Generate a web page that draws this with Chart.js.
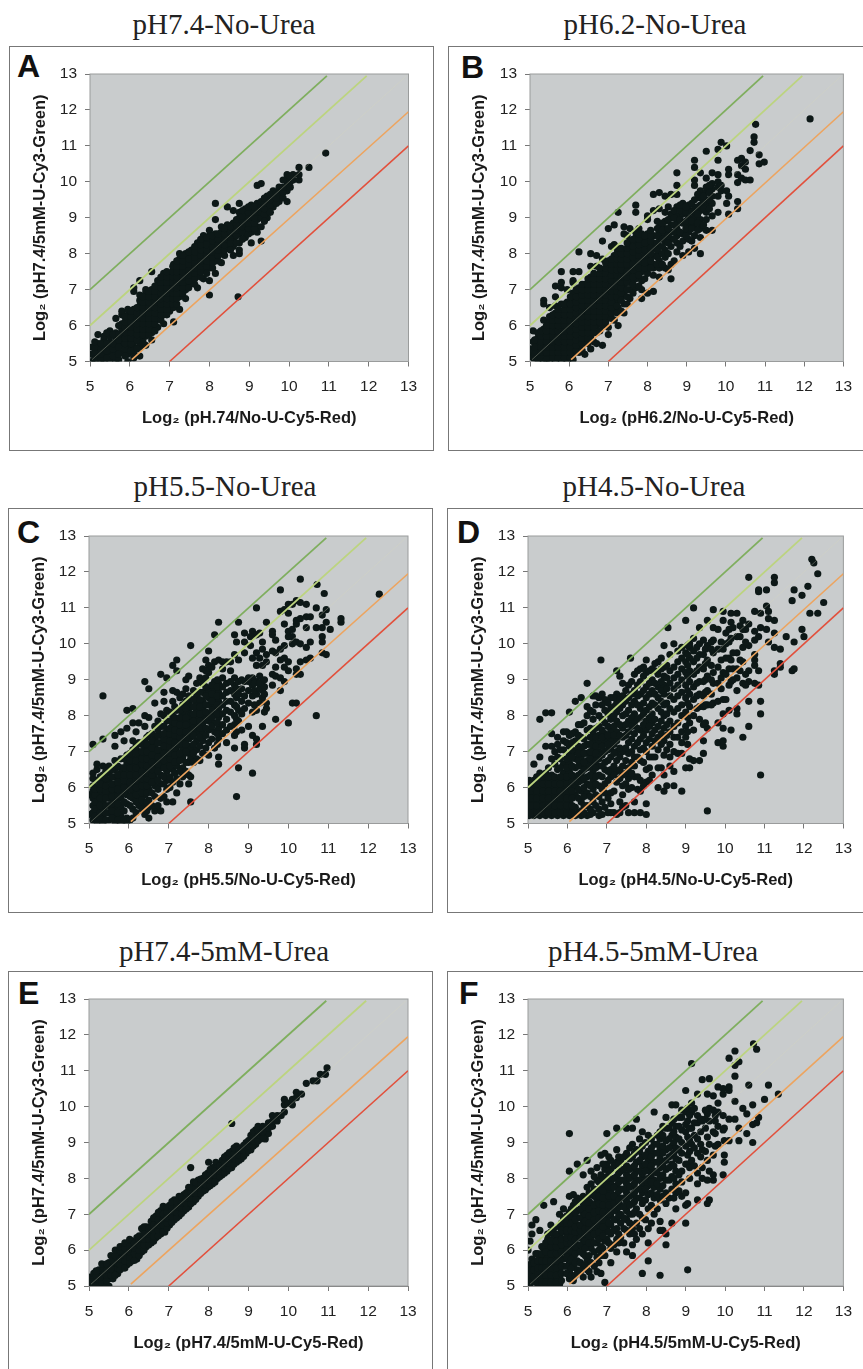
<!DOCTYPE html>
<html>
<head>
<meta charset="utf-8">
<title>Log2 scatter panels</title>
<script src="https://cdn.jsdelivr.net/npm/chart.js@4/dist/chart.umd.min.js"></script>
<style>
    html, body { margin: 0; padding: 0; background: #fff; }
    body { position: relative; width: 863px; height: 1369px; overflow: hidden; }
    .frame { position: absolute; box-sizing: border-box; border: 1.5px solid #777; }
    .title { position: absolute; transform: translateX(-50%); white-space: nowrap; font: 29px "Liberation Serif", serif; color: #222; }
    .letter { position: absolute; font: bold 32px "Liberation Sans", sans-serif; color: #111; line-height: 32px; }
</style>
</head>
<body>
<script>
// Axis ticks shared by every panel
const tickValues = [5, 6, 7, 8, 9, 10, 11, 12, 13];

// Guide lines, read as end points [x, y]
const guideGreen = [[5, 7], [10.95, 12.95]];
const guideLightGreen = [[5, 6], [11.95, 12.95]];
const guideCentre = [[5.05, 5.05], [12.95, 12.95]];
const guideOrange = [[6.05, 5.05], [13, 11.95]];
const guideRed = [[7, 5], [13, 11]];

// Points, one row per column: [x, y, y, y...]
const columnsA = [
    [5.05,5,5.2,5.4],[5.2,5.1,5.3,5.5,5.75],[5.35,5,5.2,5.4,5.6,5.7],[5.5,5.05,5.25,5.4,5.55,5.7,5.85],
    [5.65,5,5.3,5.5,5.65,5.8,6.2],[5.8,5.25,5.45,5.6,5.75,5.9,6.05,6.3,6.4],
    [5.95,5,5.2,5.4,5.55,5.7,5.85,6,6.15,6.3,6.45],[6.1,5.1,5.25,5.4,5.55,5.7,5.85,6,6.15,6.3,6.45,6.95,7.05],
    [6.25,5.15,5.4,5.5,5.65,5.8,5.95,6.1,6.25,6.4,6.55,6.7,6.85,7.25],[6.4,5.45,5.7,5.85,6,6.15,6.3,6.45,6.6,6.75,6.9,7],
    [6.55,5.6,5.8,5.95,6.1,6.25,6.4,6.55,6.7,6.85,7,7.5],[6.7,5.95,6.2,6.35,6.5,6.65,6.8,6.95,7.1,7.25],
    [6.85,6.05,6.3,6.45,6.6,6.75,6.9,7.05,7.2,7.35,7.45],[7,6.4,6.55,6.7,6.85,7,7.15,7.3,7.45],
    [7.1,6.1,6.5,6.65,6.8,6.95,7.1,7.25,7.4,7.55,7.7],[7.25,6.45,6.8,6.95,7.1,7.25,7.4,7.55,7.7,7.85,8],
    [7.4,6.75,7,7.15,7.3,7.45,7.6,7.75,7.9,8],[7.55,7.2,7.35,7.5,7.65,7.8,7.95,8.1],
    [7.7,7.05,7.4,7.55,7.7,7.85,8,8.15,8.3],[7.85,7.3,7.55,7.7,7.85,8,8.15,8.3,8.5],
    [8,6.85,7.25,7.6,7.75,7.9,8.05,8.2,8.35,8.5,8.65],[8.15,7.45,7.8,7.95,8.1,8.25,8.4,8.55,8.95,9.4],
    [8.3,7.75,8,8.15,8.3,8.45,8.6,8.75],[8.45,8.15,8.35,8.5,8.65,8.8,9.3],[8.6,7.95,8.2,8.4,8.55,8.7,8.85,9.2],
    [8.72,6.8],[8.75,8,8.1,8.3,8.55,8.7,8.85,9,9.15,9.4],[8.9,8.45,8.65,8.8,8.95,9.1,9.25],
    [9.05,8.3,8.6,8.75,8.9,9.05,9.2,9.35],[9.2,8.6,8.75,8.95,9.1,9.25,9.4,9.9],[9.3,8.35,8.75,9,9.15,9.3,9.45,9.95],
    [9.45,9,9.15,9.3,9.45,9.6],[9.6,9.3,9.45,9.6,9.75],[9.75,9.45,9.6,9.75,9.85],[9.95,9.45,9.75,9.9,10.05,10.2],
    [10.1,10.05,10.2],[10.25,10.05,10.2,10.4],[10.5,10.4],[10.92,10.8]
];
const fillA = [
    [5.12,5.05,5.25,5.4,5.55],[5.28,5.05,5.2,5.35,5.5],[5.42,5.1,5.3,5.5,5.8],[5.58,5.15,5.35,5.5,5.75],
    [5.72,5.05,5.2,5.4,5.6,5.75,6],[5.88,5.15,5.35,5.5,5.65,5.8,5.95,6.1,6.25],[6.03,5.3,5.5,5.65,5.8,5.95,6.1,6.25,6.4],
    [6.18,5.35,5.6,5.75,5.9,6.05,6.2,6.35,6.5],[6.33,5.55,5.75,5.9,6.05,6.2,6.35,6.5,6.65,6.8],
    [6.48,5.75,5.9,6.05,6.2,6.35,6.5,6.65,6.8,6.95],[6.63,5.85,6.05,6.2,6.35,6.5,6.65,6.8,6.95,7.1],
    [6.78,6.15,6.3,6.45,6.6,6.75,6.9,7.05,7.2,7.35],[6.93,6.3,6.45,6.6,6.75,6.9,7.05,7.2,7.35,7.5],
    [7.08,6.6,6.75,6.9,7.05,7.2,7.35,7.5,7.65],[7.18,6.6,6.75,6.9,7.05,7.2,7.35,7.5,7.65,7.8],
    [7.33,6.9,7.05,7.2,7.35,7.5,7.65,7.8,7.95],[7.48,7.05,7.25,7.4,7.55,7.7,7.85,8.05],[7.63,7.15,7.3,7.45,7.6,7.75,7.9,8.05,8.2],
    [7.78,7.35,7.5,7.65,7.8,7.95,8.1,8.25,8.4],[7.93,7.45,7.65,7.8,7.95,8.1,8.25,8.45],[8.08,7.6,7.75,7.9,8.05,8.2,8.35,8.5],
    [8.22,7.8,7.95,8.1,8.25,8.4,8.55],[8.38,7.95,8.1,8.25,8.4,8.55,8.7],[8.53,8.1,8.3,8.45,8.6,8.75],[8.68,8.3,8.5,8.65,8.8,8.95],
    [8.83,8.4,8.6,8.75,8.9,9.05,9.2],[8.98,8.55,8.7,8.85,9,9.15,9.3],[9.13,8.7,8.85,9,9.15,9.3],[9.38,8.9,9.1,9.25,9.4,9.55],
    [9.53,9.15,9.35,9.5,9.65],[9.68,9.4,9.55,9.7],[9.85,9.55,9.7,9.85,10.05],[10.03,9.85,10,10.15]
];
const columnsB = [
    [5,5.15,5.25,5.35],[5.08,5.1,5.3,5.55,5.85],[5.2,5.05,5.2,5.35,5.5,5.65,5.8],
    [5.35,5,5.15,5.3,5.45,5.6,5.75,5.9,6.15,6.6,6.7],[5.5,5.05,5.2,5.35,5.5,5.65,5.8,5.95,6.1,6.25,6.5],
    [5.65,5,5.15,5.3,5.45,5.6,5.75,5.9,6.05,6.2,6.35,6.55,6.8,7.1],
    [5.8,5.05,5.2,5.35,5.5,5.65,5.8,5.95,6.1,6.25,6.4,6.6,7.05,7.2,7.5],
    [5.95,5,5.15,5.3,5.45,5.6,5.75,5.9,6.05,6.2,6.35,6.5,6.65,7],
    [6.1,5.05,5.2,5.4,5.55,5.7,5.85,6,6.15,6.3,6.45,6.6,6.75,6.9,7.2,7.25,7.5],
    [6.25,5.25,5.4,5.55,5.7,5.85,6,6.15,6.3,6.45,6.6,6.75,6.9,7.05,7.5,8.05],
    [6.4,5.2,5.5,5.65,5.8,5.95,6.1,6.25,6.4,6.55,6.7,6.85,7,7.15],
    [6.55,5.35,5.7,5.85,6,6.15,6.3,6.45,6.6,6.75,6.9,7.05,7.2,7.35,7.65,8],
    [6.7,5.5,5.8,6,6.15,6.3,6.45,6.6,6.75,6.9,7.05,7.2,7.35,7.65,7.95],
    [6.85,5.45,6,6.2,6.35,6.5,6.65,6.8,6.95,7.1,7.25,7.4,7.55,7.85,8.35],
    [7,5.75,5.95,6.3,6.45,6.6,6.75,6.9,7.05,7.2,7.35,7.5,7.65,7.8,8.7],
    [7.15,6.15,6.45,6.6,6.75,6.9,7.05,7.2,7.35,7.5,7.65,7.8,7.95,8.25,8.8],
    [7.25,6,6.5,6.7,6.85,7,7.15,7.3,7.45,7.6,7.75,7.9,8.05,9.15],
    [7.4,6.35,6.6,6.85,7,7.15,7.3,7.5,7.65,7.8,7.95,8.1,8.55,8.75],
    [7.55,6.75,7,7.2,7.4,7.6,7.75,7.9,8.05,8.2,8.35,8.7],
    [7.7,7.05,7.3,7.5,7.7,7.85,8,8.15,8.3,8.45,8.6,9.15,9.35],
    [7.85,6.75,7,7.25,7.5,7.65,7.9,8.1,8.25,8.4,8.55],
    [8,6.9,7.45,7.65,7.85,8,8.2,8.4,8.55,8.95,9.05],
    [8.15,6.95,7.4,7.6,7.7,7.95,8.15,8.3,8.5,9.2,9.65],
    [8.3,7.35,7.6,7.8,8,8.2,8.45,8.6,8.75,9.25,9.7],
    [8.45,7.6,7.9,8.1,8.35,8.55,8.7,8.9,9.15,9.6],
    [8.6,7.3,7.7,8.2,8.4,8.6,8.8,9,9.1,9.65],
    [8.75,8.05,8.3,8.5,8.7,8.85,9.05,9.3,9.65,9.9,10.25],
    [8.9,7.95,8.35,8.55,8.85,9.1,9.3,9.4],
    [9.05,8.05,8.4,8.6,8.8,9,9.2,9.35],
    [9.2,8.15,8.5,8.8,9,9.25,9.5,9.9,10.05,10.4,10.6],
    [9.35,8,8.45,8.7,8.95,9.2,9.35,9.55,9.75,10.25],
    [9.5,8.65,8.95,9.15,9.35,9.5,9.7,9.85,10.1,10.85],
    [9.65,8.65,9.05,9.4,9.6,9.8,9.95,10.25],
    [9.8,9.15,9.6,9.85,10,10.2,10.6,10.9],
    [9.88,9.75,9.9,11.1],[10.02,9.4,9.75,11],[10.07,9.1,9.6,10.2,10.35],[10.3,9.25,9.45,9.98,10.2,10.6],
    [10.4,10.1,10.45,10.65],[10.5,10.05,10.35,10.55],[10.62,10.05,10.87],[10.72,11.1,11.25],
    [10.76,11.6],[10.85,10.5,10.75],[10.98,10.55],[12.15,11.75]
];
const fillB = [
    [5.12,5.2,5.4,5.6],[5.28,5.1,5.25,5.4,5.55,5.7,5.85],[5.42,5.05,5.25,5.4,5.55,5.7,5.85,6],[5.58,5.1,5.25,5.4,5.55,5.7,5.85,6,6.15,6.3],
    [5.72,5.1,5.25,5.4,5.55,5.7,5.85,6,6.15,6.3,6.45],[5.88,5.1,5.25,5.4,5.55,5.7,5.85,6,6.15,6.3,6.45,6.6],
    [6.03,5.1,5.25,5.4,5.55,5.7,5.85,6,6.15,6.3,6.45,6.6,6.8],[6.18,5.3,5.45,5.6,5.75,5.9,6.05,6.2,6.35,6.5,6.65,6.8,7],
    [6.33,5.3,5.5,5.65,5.8,5.95,6.1,6.25,6.4,6.55,6.7,6.85,7,7.15],[6.48,5.5,5.65,5.8,5.95,6.1,6.25,6.4,6.55,6.7,6.85,7,7.15,7.3],
    [6.63,5.55,5.8,5.95,6.1,6.25,6.4,6.55,6.7,6.85,7,7.15,7.3,7.45],[6.78,5.85,6.1,6.25,6.4,6.55,6.7,6.85,7,7.15,7.3,7.45,7.6],
    [6.93,6.1,6.25,6.4,6.55,6.7,6.85,7,7.15,7.3,7.45,7.6,7.75],[7.08,6.2,6.35,6.5,6.65,6.8,6.95,7.1,7.25,7.4,7.55,7.7,7.85,8.2],
    [7.22,6.35,6.55,6.8,6.95,7.1,7.25,7.4,7.55,7.7,7.85,8,8.15],[7.33,6.4,6.7,6.9,7.05,7.2,7.35,7.55,7.7,7.85,8,8.15],
    [7.48,6.6,6.8,7,7.2,7.35,7.5,7.7,7.85,8,8.15,8.3,8.5],[7.63,6.9,7.15,7.35,7.55,7.7,7.9,8.05,8.2,8.4],
    [7.78,7.1,7.4,7.6,7.8,7.95,8.1,8.25,8.4,8.55,8.7],[7.93,7.3,7.6,7.75,7.95,8.1,8.3,8.5],
    [8.08,7.6,7.8,8,8.15,8.35,8.5,8.65],[8.25,7.7,7.9,8.1,8.3,8.5,8.7,8.9],[8.38,7.7,8,8.2,8.4,8.65,8.85],
    [8.53,7.55,8,8.3,8.5,8.7,8.95,9.3],[8.68,7.8,8.4,8.6,8.8,9,9.2],[8.83,8.2,8.6,8.95,9.2,9.35],[8.98,8.5,8.7,8.9,9.15,9.3],
    [9.13,8.35,8.7,8.9,9.15,9.4],[9.28,8.65,8.85,9.1,9.3,9.65],[9.43,8.8,9.25,9.45,9.6],[9.58,9.25,9.5,9.7,9.9]
];
const columnsC = [
    [5,5.25,5.8],[5.1,5.1,5.3,5.5,5.7,5.9,6.05,6.25,6.4,7.2],[5.2,5.05,5.25,5.45,5.65,5.85,6,6.2,6.5,6.65],
    [5.35,5,5.2,5.4,5.6,5.8,5.95,6.15,6.35,6.6,7.35,8.55],[5.5,5.1,5.3,5.5,5.7,5.85,6,6.2,6.4,6.6],
    [5.65,5.05,5.25,5.45,5.65,5.8,5.95,6.1,6.3,6.5,6.75,7.15,7.45],[5.8,5,5.2,5.45,5.7,5.9,6.05,6.25,6.4,6.55,6.8,7.55],
    [5.95,5.05,5.15,5.55,5.8,5.95,6.1,6.3,6.45,6.65,6.9,7.65,8.15],[6.1,5.15,5.4,5.7,5.9,6.1,6.25,6.4,6.6,6.8,7.05,7.3,7.8,8.2],
    [6.25,5.5,5.75,5.95,6.15,6.3,6.5,6.65,6.85,7,7.25,7.8],[6.4,5.25,5.55,5.8,6,6.2,6.35,6.55,6.7,6.9,7.1,7.3,7.7,8,8.95],
    [6.5,5.15,5.45,5.65,5.95,6.1,6.3,6.5,6.65,6.85,7,7.2,7.45,7.95,8.75],[6.65,5.35,5.75,6.05,6.25,6.4,6.6,6.75,6.95,7.15,7.35,7.7,8.35],
    [6.8,5.35,5.7,6.1,6.35,6.55,6.7,6.9,7.05,7.25,7.45,7.7,8.05,9.15],[6.95,5.6,5.95,6.2,6.45,6.65,6.85,7,7.2,7.4,7.55,7.85,8.15,9.05],
    [7.1,5.6,6.15,6.5,6.7,6.85,7,7.2,7.35,7.55,7.75,8,8.4,8.7,9.4],[7.2,5.85,6.25,6.6,6.8,7,7.15,7.35,7.5,7.7,7.85,8.15,8.65,9.25,9.55],
    [7.35,6.3,6.55,6.85,7.1,7.3,7.45,7.65,7.85,8.05,8.3,8.6],[7.5,6.1,6.35,6.7,6.95,7.15,7.35,7.5,7.7,7.9,8.1,8.35,8.55,9.1],
    [7.55,5.6,6.3,6.8,7.1,7.4,7.6,7.8,8,8.25,8.45,9.95],[7.7,6.8,7.05,7.3,7.55,7.75,7.95,8.15,8.35,8.55,8.9],
    [7.85,6.95,7.3,7.5,7.75,8,8.2,8.4,8.65,8.9,9.3],[8,6.9,7.25,7.6,7.85,8.05,8.3,8.5,8.7,9.2,9.4,9.8],
    [8.15,7.1,7.55,7.8,8.05,8.25,8.5,8.75,8.95,9.5,10.25],[8.25,6.65,6.85,7.35,7.65,7.95,8.2,8.4,8.65,8.9,9.55,10.6],
    [8.45,7.25,7.6,7.9,8.15,8.4,8.65,8.9,9.5],[8.65,7.1,7.45,7.75,8,8.3,8.6,8.85,9.05,9.7,10.25],
    [8.7,5.75,7.55,7.9,8.25,8.5,8.75,10.05],[8.75,6.55,7.85,8.15,8.6,8.95,9.55,10.6],[8.9,7.1,7.2,8.2,8.55,8.95,9.75,10.05,10.3],
    [9.1,6.4,7.45,8.1,8.55,8.85,9.05,9.6,10.35],[9.2,7.2,7.35,8.15,8.6,8.95,9.4,9.75,10.25,11],
    [9.35,7.7,8.5,8.7,8.95,9.4,9.85,10.05],[9.45,8.2,8.35,9.5,9.7,10.6],[9.6,8.85,9.15,9.8,10.25,10.35],
    [9.68,7.9,9.1,9.35,9.75,10.1],[9.8,8.7,9.05,9.55,9.85,10.9,11.5],[9.9,8.95,9.35,9.6,9.95,10.55,10.95],
    [10,7.8,9.25,9.5,10.2,10.35,10.85,11.1],[10.1,8.35,10,10.2,10.4,11.1],[10.2,8.35,9.15,9.3,10.05,10.55,10.65,11.2],
    [10.3,9.15,9.5,10,10.7,11.15,11.8],[10.45,9.55,9.9,10.45,10.75,11.1],[10.55,9.6,10.05,10.75],[10.7,8,10.45,11],
    [10.72,11.65],[10.85,9.75,10.05,10.2,10.45,10.8],[10.9,11.4],[10.95,9.7,10.6,10.95],[11.05,10.4],[11.32,10.6,10.7],[12.28,11.38]
];
const fillC = [
    [5.15,5.2,5.4,5.6,5.8,5.95],[5.28,5.15,5.3,5.5,5.7,5.95,6.1,6.3],[5.42,5.1,5.3,5.5,5.7,5.9,6.05,6.25,6.45],
    [5.58,5.15,5.35,5.55,5.75,5.95,6.1,6.3,6.5],[5.72,5.1,5.3,5.55,5.75,5.95,6.15,6.35,6.6],[5.88,5.1,5.35,5.6,5.85,6,6.2,6.35,6.55,6.8,7.3],
    [6.03,5.1,5.5,5.75,5.95,6.15,6.35,6.55,6.75,6.95],[6.18,5.3,5.6,5.8,6,6.2,6.35,6.55,6.75,6.95,7.15,7.55],[6.33,5.4,5.65,5.85,6.05,6.25,6.45,6.65,6.8,7,7.2],
    [6.45,5.35,5.6,5.85,6.05,6.25,6.4,6.6,6.8,7,7.2,7.4],[6.58,5.5,5.85,6.15,6.35,6.5,6.7,6.9,7.1,7.3,7.5],[6.73,5.5,5.95,6.2,6.45,6.65,6.85,7.05,7.25,7.45,7.6,7.85],
    [6.88,5.75,6.1,6.3,6.55,6.75,6.95,7.15,7.35,7.5,7.7,8,8.4,8.65],[7.03,6,6.3,6.6,6.8,6.95,7.15,7.3,7.5,7.65,7.85,8.1],[7.15,6.4,6.7,6.9,7.1,7.25,7.45,7.6,7.8,7.95,8.25],
    [7.28,6.1,6.45,6.75,6.95,7.2,7.4,7.55,7.75,7.95,8.15,8.5],[7.43,6.45,6.7,7,7.2,7.4,7.55,7.75,7.95,8.2,8.4,8.75,9],[7.62,6.7,6.95,7.2,7.45,7.65,7.85,8.05,8.25,8.45,8.7],
    [7.78,6.75,7.15,7.4,7.65,7.85,8.05,8.25,8.45,8.65,9.05],[7.93,7.1,7.45,7.65,7.9,8.1,8.3,8.55,8.8,9.05,9.25,9.55],[8.08,7.35,7.7,7.95,8.15,8.4,8.6,8.85,9.35],
    [8.22,7.2,7.5,7.8,8.05,8.3,8.55,8.8,9],[8.35,7.5,7.75,8.05,8.3,8.55,8.8,9.05,9.3,9.5],[8.55,7.7,8.1,8.4,8.7,8.95,9.25,9.5],[8.83,7.6,8.05,8.4,8.75,9],
    [9,7.7,8.35,8.7,8.95,9.05],[9.05,9.95,10.2],[9.15,8.3,8.7,8.9],[9.28,8.35,8.75,8.9,9.1,9.6,10.3],[9.4,8.1,8.6,8.8,9]
];
const columnsD = [
    [5.03,5.22,5.4,5.6,5.8,6,6.2],[5.15,5.22,5.4,5.6,5.8,6,6.2,6.65],[5.3,5.22,5.4,5.6,5.8,6,6.2,6.4,6.85,7.9],
    [5.45,5.22,5.4,5.6,5.8,6,6.2,6.4,7.15,8.08],[5.6,5.22,5.4,5.6,5.8,6,6.2,6.35,6.8,7.15,7.5,8.08],
    [5.75,5.22,5.4,5.6,5.8,6,6.2,6.5,6.85,7.2,7.4],[5.9,5.22,5.4,5.6,5.8,6,6.2,6.4,6.65,7.05,7.3,7.55],
    [6.05,5.22,5.4,5.6,5.8,6,6.2,6.45,6.7,6.9,7.15,7.45,8.1],[6.2,5.22,5.45,5.8,6.05,6.3,6.55,6.8,7,7.3,7.55,8.4],
    [6.35,5.22,5.35,5.6,5.9,6.2,6.4,6.6,6.85,7.05,7.4,7.75,8.5],[6.5,5.22,5.5,5.85,6.1,6.3,6.55,6.75,6.95,7.2,7.6,8,8.25,8.9],
    [6.65,5.3,5.6,5.95,6.2,6.45,6.65,6.85,7.05,7.3,7.55,7.9,8.1,8.55],[6.8,5.22,5.4,5.75,6.05,6.35,6.6,6.8,7,7.25,7.45,7.7,8,8.5],
    [6.85,9.55],[6.95,5.45,5.85,6.1,6.5,6.7,7,7.3,7.5,7.8,8.15,8.45],[7.1,5.3,5.55,5.85,6.3,6.5,6.85,7.1,7.35,7.6,7.9,8.2,8.5],
    [7.25,5.25,6.15,6.45,6.75,7,7.3,7.55,7.85,8.1,8.35,8.6,9.25],[7.4,5.45,5.8,6.05,6.35,6.6,7,7.4,7.65,8,8.3,8.55,8.9],
    [7.55,5.3,5.95,6.25,6.55,6.95,7.25,7.55,7.85,8.15,8.5,8.85],[7.6,9.6],[7.7,5.3,5.6,6.3,6.6,6.85,7.15,7.5,7.8,8.05,8.4,8.7,9.15],
    [7.85,5.3,5.9,6.2,6.75,7.05,7.35,7.6,7.95,8.2,8.6,8.95,9.3],[8,5.25,5.55,6.15,6.5,7,7.25,7.6,7.85,8.15,8.5,8.8,9.2,9.55],
    [8.15,6.35,6.85,7.15,7.5,7.8,8.05,8.35,8.7,9,9.3],[8.3,6,6.55,7.05,7.4,7.7,8.2,8.5,8.8,9.15,9.5],
    [8.45,5.9,6.35,6.9,7.3,7.65,8,8.3,8.6,8.85,9.1,9.35,9.95],[8.55,10.45],[8.6,6.6,6.85,7.2,7.55,7.85,8.2,8.55,8.9,9.25,9.7],
    [8.7,6.05,6.45,7,7.4,7.7,8.1,8.45,8.75,9.05,9.35,10],[8.9,5.9,6.95,7.25,7.55,8,8.3,8.65,9,9.3,9.6,9.9],
    [9,6.55,7.4,7.7,8.1,8.5,8.85,9.2,9.5,9.75,10.65],[9.1,6.55,6.8,7.8,8.25,8.6,8.95,9.25,9.6,9.9,10],
    [9.2,6.75,7.6,8,8.45,8.8,9.15,9.5,9.8,10.15,11],[9.35,6.75,7.9,8.25,8.6,8.95,9.35,9.7,10,10.45],
    [9.45,6.95,7.3,7.75,8.25,8.55,8.95,9.3,9.7,10.1],[9.55,5.35,7.65,8.3,8.7,9.1,9.55,9.95,10.65],
    [9.7,8.35,8.9,9.2,9.75,10.1,10.45,10.95],[9.82,7.25,7.8,8.4,8.9,9.35,9.85,10.4],[9.95,7.15,7.3,7.65,8.05,8.45,9.2,9.85,10.65,10.9],
    [10.1,8.15,8.85,9.3,9.6,10.05,10.4],[10.15,7.6,8.95,9.55,10.15,10.6,10.85],[10.3,8.05,8.2,8.7,9.05,9.3,9.75,10.2,10.85],
    [10.45,7.4,8.9,9.5,9.9,10.4,10.65],[10.6,7.7,8.4,8.95,9.25,9.95,10.55,11.85],[10.75,8.9,9.4,9.55,9.7,10.1,10.35,10.9],
    [10.85,8.85,9.25,10.2,11.45,11.5],[10.9,6.35,8.05,8.4,10.45,10.85],[11.05,10.4,11.05,11.5],[11.1,10.05,10.7,10.9],
    [11.25,9.15,9.25,9.9,10.3,10.65,11.7,11.85],[11.4,9.35,9.45,9.85],[11.55,10.2],[11.7,9.25,11.2],[11.75,9.3,10.05,11.5],
    [11.95,10.4,11.35],[12,10.2],[12.1,11.6],[12.15,10.85],[12.2,12.35],[12.25,12.25],[12.35,10.85,11.95],[12.5,11.15]
];
const fillD = [
    [5.08,5.3,5.5,5.7,5.9,6.1],[5.22,5.3,5.5,5.7,5.9,6.1,6.3],[5.38,5.3,5.5,5.7,5.9,6.1,6.3],[5.52,5.3,5.5,5.7,5.9,6.1,6.3,6.55],
    [5.68,5.3,5.5,5.7,5.9,6.1,6.3,6.65,7],[5.82,5.3,5.5,5.7,5.9,6.1,6.3,6.55,6.8,7.05],[5.98,5.3,5.5,5.7,5.9,6.1,6.3,6.55,6.8,7.25,7.55],
    [6.12,5.3,5.5,5.7,5.9,6.15,6.35,6.6,6.85,7.05,7.25,7.5],[6.28,5.3,5.7,5.95,6.15,6.35,6.6,6.75,6.95,7.15,7.45,7.75],[6.42,5.3,5.5,5.75,6,6.25,6.5,6.7,6.95,7.15,7.35,7.8],
    [6.58,5.25,5.4,5.75,6.05,6.35,6.6,6.8,7,7.2,7.4,7.65,8.15],[6.72,5.5,5.8,6.1,6.3,6.55,6.75,6.95,7.15,7.4,7.65,8.3,8.55],[6.88,5.25,5.6,5.95,6.3,6.6,6.9,7.15,7.4,7.6,7.9,8.3,8.6],
    [7.03,5.3,5.7,6.2,6.45,6.75,7.05,7.2,7.45,7.7,8.05,8.35],[7.18,5.3,5.9,6.35,6.6,6.95,7.2,7.45,7.7,8,8.25,8.5],[7.33,5.3,5.6,6.25,6.5,6.85,7.1,7.45,7.75,8.2,8.45,9.1],
    [7.48,5.5,6.1,6.4,6.75,7.1,7.45,7.75,8.05,8.4,8.7],[7.63,6,6.4,6.7,7,7.35,7.7,7.95,8.3,8.6,8.95],[7.78,5.95,6.3,6.85,7.25,7.65,7.9,8.3,8.55,8.85,9.25],
    [7.93,6.05,6.7,7.1,7.45,7.75,8.05,8.35,8.7,9.1,9.35],[8.08,6.2,6.55,6.85,7.35,7.7,7.95,8.25,8.6,8.9,9.25],[8.22,6.85,7.3,7.6,7.9,8.3,8.6,8.9,9.25,9.45],
    [8.38,6.55,7.2,7.5,7.85,8.1,8.4,8.7,8.95,9.3,9.6],[8.52,6.05,7.05,7.45,7.75,8.05,8.35,8.75,9.05,9.4],[8.8,6.95,7.4,7.8,8.2,8.55,8.85,9.15,9.5,9.8],
    [9.05,7.2,7.55,7.95,8.35,8.7,9.1,9.4,9.7,9.95],[9.28,8.2,8.55,8.9,9.25,9.6,9.9],[9.5,7.8,8.3,8.65,9,9.45,9.85],[9.65,8.3,8.6,9,9.4,9.85,10.05],
    [9.9,8.75,9.05,9.55,10.05],[10.02,8.45,9.15,9.6,10,10.3],[10.2,9,9.3,9.75,10.45],[10.38,9.25,9.55,10.2,10.5],[10.52,8.85,9.15,10.05,10.4]
];
const columnsE = [
    [5,5,5.25],[5.12,5.05,5.2,5.35],[5.25,5,5.15,5.3,5.45],[5.38,5.05,5.2,5.35,5.5,5.6],[5.5,5,5.2,5.35,5.5,5.65],
    [5.6,5.2,5.4,5.55,5.7],[5.72,5.35,5.5,5.65,5.8,5.9],[5.84,5.5,5.65,5.8,5.95,6.1],[5.96,5.6,5.75,5.9,6.05,6.15],
    [6.08,5.7,5.85,6,6.15,6.25],[6.2,5.75,5.95,6.1,6.25,6.35],[6.32,5.95,6.1,6.25,6.4,6.6],[6.44,6.1,6.25,6.4,6.55,6.65],
    [6.56,6.2,6.35,6.5,6.65,6.8],[6.68,6.35,6.5,6.65,6.8,6.95],[6.8,6.45,6.6,6.75,6.9,7.1],[6.9,6.5,6.65,6.8,6.95,7.15],
    [7.02,6.7,6.85,7,7.15,7.25],[7.14,6.85,7,7.15,7.3,7.4],[7.26,6.95,7.1,7.25,7.4,7.5],[7.38,7.1,7.25,7.4,7.55],
    [7.5,7.2,7.35,7.5,7.65,7.75],[7.55,8.3],[7.62,7.35,7.5,7.65,7.8,7.9],[7.74,7.5,7.65,7.8,7.95],[7.86,7.65,7.75,7.9,8],
    [7.98,7.75,7.9,8.05,8.15],[8.1,7.85,8,8.15,8.3],[8,8.45],[8.18,8.45],[8.22,8,8.15,8.3],[8.34,8.1,8.25,8.4,8.5],
    [8.46,8.2,8.35,8.5,8.65],[8.58,8.3,8.45,8.6,8.75,9.53],[8.7,8.45,8.6,8.75,8.9],[8.82,8.55,8.7,8.85],[8.94,8.7,8.85,9],
    [9.06,8.8,8.95,9.1,9.2],[9.18,8.95,9.1,9.25,9.35],[9.3,9.1,9.25,9.4],[9.42,9.1,9.25,9.4],[9.5,9.25,9.4,9.55],
    [9.6,9.45,9.6,9.75],[9.72,9.6,9.75],[9.82,9.75],[9.9,9.85,10.05,10.2],[10,10.1],[10.1,10.05,10.2],[10.2,10.25,10.4],
    [10.33,10.35],[10.45,10.65],[10.62,10.72],[10.72,10.72],[10.8,10.9],[10.93,10.9],[10.97,11.08]
];
const fillE = [
    [5.05,5.12],[5.18,5,5.3,5.42],[5.32,5.1,5.25,5.62],[5.44,5.02,5.15,5.3,5.45,5.62],[5.55,5.3,5.48,5.85],[5.66,5.3,5.85,6],
    [5.78,5.45,5.6,5.75,5.98,6.1],[5.9,5.5,5.7,5.85,6.05,6.2],[6.02,5.65,5.8,5.95,6.1,6.3],[6.14,5.72,5.9,6.05,6.2],
    [6.26,5.85,6,6.15,6.3,6.4],[6.38,6,6.15,6.3,6.45,6.65],[6.5,6.15,6.3,6.45,6.6],[6.62,6.25,6.4,6.55,6.7,6.9],
    [6.74,6.4,6.55,6.7,6.85,7.05],[6.86,6.52,6.7,6.85,7,7.22],[6.96,6.62,6.75,6.9,7.05,7.2],[7.08,6.78,6.92,7.08,7.22,7.35],
    [7.2,6.9,7.05,7.2,7.35],[7.32,7.02,7.18,7.32,7.48],[7.44,7.15,7.3,7.45,7.6],[7.56,7.3,7.45,7.6,7.75],[7.68,7.42,7.58,7.72,7.88],
    [7.8,7.58,7.72,7.85,7.98],[7.92,7.68,7.82,7.98,8.1],[8.04,7.8,7.95,8.1,8.25],[8.16,7.9,8.08,8.22],[8.28,8.05,8.2,8.35],
    [8.4,8.15,8.3,8.45,8.6],[8.52,8.28,8.42,8.58,8.72],[8.64,8.4,8.55,8.7,8.85],[8.76,8.5,8.65,8.8],[8.88,8.62,8.78,8.92],[9,8.78,8.9,9.05],
    [9.12,8.9,9.05,9.2,9.3],[9.24,9.05,9.2,9.35,9.45],[9.36,9.15,9.3,9.45]
];
const columnsF = [
    [5,5.2,5.5,6],[5.05,5.05,5.35,5.6,6.25],[5.1,5.15,5.45,5.75,6.45,6.7],[5.2,5.1,5.3,5.5,5.7,5.9,6.85],
    [5.3,5,5.2,5.4,5.6,5.8,6.55],[5.4,5,5.2,5.4,5.6,5.8,6.05,7.25],[5.5,5.05,5.25,5.45,5.65,5.85,6.05,6.3,6.45],
    [5.65,5,5.2,5.4,5.6,5.8,6,6.15,6.35,6.6,7.35],[5.8,5.05,5.25,5.45,5.65,5.85,6,6.2,6.4,6.65,7],
    [5.9,5.55,5.75,5.95,6.1,6.3,6.5,6.7,6.9,7.15],[6.05,5.2,5.4,5.65,5.9,6.1,6.25,6.45,6.65,6.85,7.05,7.5,8.2,9.25],
    [6.15,5.15,5.55,5.8,6.05,6.2,6.4,6.6,6.75,7,7.25,7.55],[6.25,5.45,5.7,6,6.15,6.35,6.5,6.7,6.9,7.1,7.45,8.4],
    [6.4,5.25,5.55,5.9,6.1,6.3,6.5,6.65,6.85,7.05,7.3,7.5,8.1],[6.5,5.45,5.75,6.1,6.3,6.45,6.65,6.8,7,7.2,7.45,7.75,8.5],
    [6.6,5.25,5.65,6.05,6.3,6.55,6.7,6.9,7.1,7.3,7.55,7.85,8.2],[6.75,5.4,5.8,6.2,6.4,6.6,6.8,7,7.2,7.4,7.6,7.95,8.3],
    [6.85,5.35,5.85,6.1,6.35,6.55,6.75,6.95,7.15,7.35,7.55,7.75,8.1,8.65],[6.95,5.1,5.85,6.25,6.5,6.75,6.95,7.15,7.35,7.55,7.8,8.25,8.7],
    [7,6.3,6.6,6.85,7.1,7.35,7.6,7.85,8.05,8.4,9.25],[7.1,5.65,6.05,6.45,6.7,6.95,7.2,7.4,7.65,7.9,8.25,8.5],
    [7.25,5.95,6.3,6.6,6.85,7.1,7.35,7.55,7.8,8.05,8.45,8.8,9.4],[7.35,6.35,6.75,7,7.25,7.45,7.7,7.95,8.2,8.5],
    [7.5,5.95,6.55,6.85,7.1,7.35,7.6,7.85,8.1,8.35,8.7,9.4],[7.65,5.85,6.15,6.6,7,7.3,7.55,7.8,8.05,8.3,8.6,8.95,9.4],
    [7.75,6.3,6.75,7.15,7.45,7.7,7.95,8.2,8.45,8.8,9.65],[7.9,5.35,6.45,6.9,7.3,7.6,7.85,8.1,8.35,8.6,8.9,9.3],
    [8.05,5.7,6.2,6.6,7.15,7.55,7.8,8,8.25,8.5,8.75,9.2],[8.2,7,7.45,7.75,7.95,8.2,8.45,8.7,8.95,9.85],
    [8.35,5.3,6.55,6.8,7.4,7.7,8,8.3,8.55,8.8,9.1,9.3],[8.5,6.15,6.45,7.3,7.6,7.95,8.25,8.5,8.8,9.05,9.4,9.7],
    [8.65,6.75,7.7,8.05,8.4,8.65,8.9,9.2,9.55,10.05],[8.75,7.15,7.6,7.85,8.2,8.55,8.85,9.15,9.45,10.05],
    [8.9,7.5,7.9,8.2,8.7,9,9.35,9.7,9.9],[9,6.75,7.25,7.6,8.4,8.9,9.3,9.5,9.85,10.45],[9.05,5.45,7.3,8.4,8.65,9.15,9.6,9.95],
    [9.15,8.5,8.95,9.4,9.85,10.1,11.2],[9.3,7.4,7.85,8.15,8.7,9.1,9.55,9.75,10.35],[9.42,8,8.3,8.8,9.6,10.75],
    [9.55,7.3,7.95,8.5,9.15,9.8,10.35],[9.6,7.4,8.2,8.95,9.6,9.95,10.78],[9.7,7.95,8.1,8.65,9.3,9.9,10.3],
    [9.82,8.95,9.45,9.85,10.1,10.55],[9.95,8.1,9.35,9.75,10.35,10.5],[9.98,8.45,8.65,9.05,9.4],[10.1,9.05,9.65,10.45,10.55],
    [10.1,11.35],[10.25,9.65,10.15,10.85,11.15,11.55],[10.35,9.05,9.4,11.25],[10.45,9.95],[10.55,9.25,9.8],[10.6,10.6],
    [10.7,9,9.5,10.05],[10.72,11.75],[10.8,9.55,11.6],[10.85,9.7],[11,10.2],[11.1,10.6],[11.35,10.35]
];
const fillF = [
    [5.15,5.25,5.45,5.65],[5.25,5.1,5.35,5.5,5.7,5.9],[5.35,5.1,5.3,5.5,5.7,5.9,6.1],[5.45,5.1,5.3,5.5,5.7,5.95,6.2],
    [5.58,5.1,5.3,5.5,5.7,5.9,6.1,6.25,6.5,6.7],[5.72,5.1,5.3,5.5,5.7,5.9,6.1,6.25,6.45],[5.85,5.15,5.35,5.55,5.75,5.95,6.15,6.3,6.55,6.75],
    [5.98,5.35,5.55,5.8,6,6.2,6.35,6.55,6.75,6.95],[6.1,5.3,5.5,5.75,6,6.2,6.35,6.55,6.75,6.95,7.15],[6.2,5.3,5.65,5.9,6.1,6.3,6.5,6.65,6.85,7.05,7.35],
    [6.33,5.4,5.65,5.95,6.15,6.35,6.55,6.7,6.9,7.15,7.4],[6.45,5.6,5.85,6.05,6.25,6.45,6.6,6.8,7,7.2,7.35],[6.55,5.4,5.85,6.2,6.4,6.6,6.75,6.95,7.15,7.35,7.6],
    [6.68,5.55,5.95,6.2,6.45,6.65,6.85,7.05,7.25,7.5,7.7,8.05],[6.8,5.65,6,6.3,6.5,6.7,6.9,7.1,7.3,7.5,7.7,7.9],[6.9,6.05,6.4,6.65,6.85,7.05,7.25,7.45,7.65,7.95,8.4],
    [7.05,6.2,6.5,6.75,7,7.25,7.5,7.75,8,8.2,8.6],[7.18,6.15,6.55,6.85,7.1,7.3,7.5,7.75,8,8.35],[7.3,6.2,6.45,6.95,7.2,7.4,7.65,7.9,8.15,8.4,8.6],
    [7.43,6.2,6.6,6.9,7.2,7.45,7.7,7.95,8.25,8.6],[7.58,6.45,6.75,7,7.25,7.5,7.75,8,8.25,8.55,8.85],[7.7,6.45,7.05,7.35,7.6,7.85,8.1,8.35,8.7],
    [7.83,6.6,7,7.45,7.7,7.95,8.2,8.5,8.75,9.1],[7.98,6.85,7.4,7.7,7.95,8.2,8.4,8.65,9],[8.13,6.75,7.25,7.6,7.9,8.1,8.35,8.6,8.85,9.1],
    [8.28,7.15,7.55,7.85,8.15,8.45,8.7,8.95,9.2],[8.42,6.55,7.5,7.8,8.1,8.4,8.7,8.9,9.2,9.45],[8.58,7.45,7.95,8.3,8.6,8.85,9.1,9.4],
    [8.7,7.45,8,8.35,8.7,9,9.3,9.65],[8.83,7.65,8.1,8.5,8.8,9.1,9.45,9.7],[9.1,8,8.3,8.75,9.05,9.4,9.75],[9.22,8.35,8.85,9.2,9.55,9.95],
    [9.38,8.6,8.95,9.3,9.65],[9.5,8.75,9.4,9.65,9.9],[9.75,8.9,9.25,9.6,9.75]
];

// Frame, plot area and text placement of each panel, in page pixels
const panels = [
    { letter: 'A', title: 'pH7.4-No-Urea', xLabel: 'Log₂ (pH.74/No-U-Cy5-Red)', columns: columnsA, fill: fillA,
      frame: [9, 46, 425, 405], plot: [90, 74, 408.5, 361.5], titleX: 224, titleY: 8, letterPos: [17, 50] },
    { letter: 'B', title: 'pH6.2-No-Urea', xLabel: 'Log₂ (pH6.2/No-U-Cy5-Red)', columns: columnsB, fill: fillB,
      frame: [448, 46, 430, 405], plot: [530, 74, 848.5, 361.5], titleX: 655, titleY: 8, letterPos: [461, 51] },
    { letter: 'C', title: 'pH5.5-No-Urea', xLabel: 'Log₂ (pH5.5/No-U-Cy5-Red)', columns: columnsC, fill: fillC,
      frame: [8, 508, 425, 405], plot: [89, 536, 408, 823.5], titleX: 225, titleY: 470, letterPos: [17, 516] },
    { letter: 'D', title: 'pH4.5-No-Urea', xLabel: 'Log₂ (pH4.5/No-U-Cy5-Red)', columns: columnsD, fill: fillD,
      frame: [447, 508, 430, 405], plot: [528, 536, 847, 823.5], titleX: 654, titleY: 470, letterPos: [457, 516] },
    { letter: 'E', title: 'pH7.4-5mM-Urea', xLabel: 'Log₂ (pH7.4/5mM-U-Cy5-Red)', columns: columnsE, fill: fillE,
      frame: [8, 971, 425, 430], plot: [89, 999, 408, 1286], titleX: 224, titleY: 935, letterPos: [18, 977] },
    { letter: 'F', title: 'pH4.5-5mM-Urea', xLabel: 'Log₂ (pH4.5/5mM-U-Cy5-Red)', columns: columnsF, fill: fillF,
      frame: [447, 971, 430, 430], plot: [528, 999, 847, 1286], titleX: 653, titleY: 935, letterPos: [459, 977] }
];

const yLabel = 'Log₂ (pH7.4/5mM-U-Cy3-Green)';

// Grey plot background and border, behind the marks
const plotBackground = {
    id: 'plotBackground',
    beforeDatasetsDraw(chart) {
        const { ctx, chartArea: a } = chart;
        ctx.save();
        ctx.fillStyle = '#c9cccd';
        ctx.fillRect(a.left, a.top, a.width, a.height);
        ctx.strokeStyle = '#9a9c9c';
        ctx.lineWidth = 1;
        ctx.strokeRect(a.left, a.top, a.width, a.height);
        ctx.restore();
    }
};

function toPoints(columns) {
    return columns.flatMap(row => row.slice(1).map(y => ({ x: row[0], y: y })));
}

function guide(line, color, width) {
    return {
        type: 'scatter',
        showLine: true,
        data: line.map(p => ({ x: p[0], y: p[1] })),
        borderColor: color,
        borderWidth: width,
        pointRadius: 0
    };
}

function axis(titleText, titlePadding, tickPadding) {
    return {
        type: 'linear',
        min: 5,
        max: 13,
        grid: { display: true, drawOnChartArea: false, color: '#777', tickLength: 5, lineWidth: 1 },
        border: { color: '#777' },
        afterBuildTicks(scale) { scale.ticks = tickValues.map(v => ({ value: v })); },
        ticks: { autoSkip: false, maxRotation: 0, color: '#222', font: { family: 'Liberation Sans', size: 15.5 }, padding: tickPadding },
        title: { display: true, text: titleText, color: '#1a1a1a', font: { family: 'Liberation Sans', size: 16.5, weight: 'bold' }, padding: titlePadding }
    };
}

function createPanel(panel) {
    const [fx, fy, fw, fh] = panel.frame;
    const [left, top, right, bottom] = panel.plot;

    const heading = document.createElement('div');
    heading.className = 'title';
    heading.textContent = panel.title;
    heading.style.left = panel.titleX + 'px';
    heading.style.top = panel.titleY + 'px';
    document.body.appendChild(heading);

    const frame = document.createElement('div');
    frame.className = 'frame';
    frame.style.cssText = `left:${fx}px;top:${fy}px;width:${fw}px;height:${fh}px`;
    document.body.appendChild(frame);

    const letter = document.createElement('div');
    letter.className = 'letter';
    letter.textContent = panel.letter;
    letter.style.left = panel.letterPos[0] + 'px';
    letter.style.top = panel.letterPos[1] + 'px';
    document.body.appendChild(letter);

    // Canvas sits at the page corner of the frame so plot positions stay simple
    const canvas = document.createElement('canvas');
    const canvasWidth = Math.min(fw, 863 - fx);
    const canvasHeight = 404;
    canvas.width = canvasWidth;
    canvas.height = canvasHeight;
    canvas.style.cssText = `position:absolute;left:${fx}px;top:${fy}px;width:${canvasWidth}px;height:${canvasHeight}px`;
    document.body.appendChild(canvas);

    const xScale = axis(panel.xLabel, { top: 0, bottom: 22 }, 11);
    const yScale = axis(yLabel, { top: 22, bottom: 0 }, 8);
    xScale.afterFit = scale => { scale.height = canvasHeight - (bottom - fy); };
    yScale.afterFit = scale => { scale.width = left - fx; };

    new Chart(canvas.getContext('2d'), {
        type: 'scatter',
        data: {
            datasets: [
                guide(guideGreen, '#7fae5e', 1.8),
                guide(guideLightGreen, '#bcd47f', 1.8),
                guide(guideCentre, 'rgba(216, 214, 189, 0.55)', 0.6),
                guide(guideOrange, '#eda45f', 1.6),
                guide(guideRed, '#e2503c', 1.6),
                {
                    data: toPoints(panel.columns).concat(toPoints(panel.fill)),
                    backgroundColor: '#0d1817',
                    borderWidth: 0,
                    pointRadius: 3.6
                }
            ]
        },
        options: {
            responsive: false,
            animation: false,
            layout: { padding: { top: top - fy, right: canvasWidth - right + fx, left: 0, bottom: 0 } },
            plugins: { legend: { display: false }, tooltip: { enabled: false } },
            scales: { x: xScale, y: yScale }
        },
        plugins: [plotBackground]
    });
}

panels.forEach(createPanel);
</script>
</body>
</html>
